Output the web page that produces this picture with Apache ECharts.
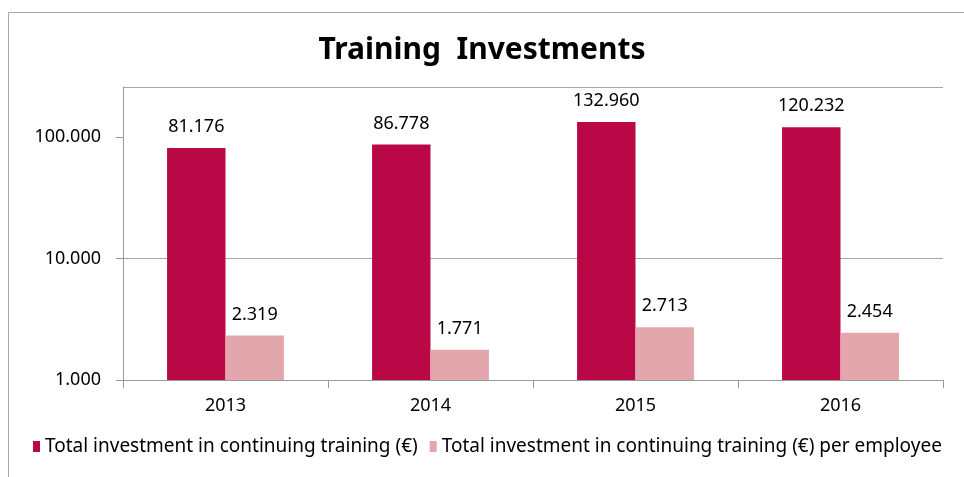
<!DOCTYPE html>
<html>
<head>
<meta charset="utf-8">
<title>Training Investments</title>
<script src="https://cdn.jsdelivr.net/npm/echarts@6/dist/echarts.min.js"></script>
<style>
  html, body { margin: 0; padding: 0; background: #fff; }
  #main { width: 964px; height: 477px; }
</style>
</head>
<body>
<div id="main"></div>
<script>
// data
const years = ['2013', '2014', '2015', '2016'];
const totalInvestment = [81176, 86778, 132960, 120232];
const perEmployee = [2319, 1771, 2713, 2454];
const seriesNames = [
  'Total investment in continuing training (€)',
  'Total investment in continuing training (€) per employee'
];

const FONT = '"Noto Sans", "Open Sans", sans-serif';

// 100000 -> "100.000"
const fmt = v => String(Math.round(v)).replace(/\B(?=(\d{3})+(?!\d))/g, '.');

const chart = echarts.init(document.getElementById('main'), null, { renderer: 'canvas' });

chart.setOption({
  animation: false,
  backgroundColor: '#fff',
  textStyle: { fontFamily: FONT },
  title: {
    text: 'Training  Investments',
    left: 'center',
    top: 30,
    textStyle: { fontFamily: FONT, fontSize: 30, fontWeight: 'bold', color: '#000' }
  },
  graphic: [{
    type: 'rect',
    left: 6,
    top: 10,
    shape: { width: 1100, height: 600 },
    style: { fill: 'none', stroke: '#a6a6a6', lineWidth: 1 },
    silent: true
  }],
  legend: {
    left: 28,
    top: 432,
    width: 3000,
    itemWidth: 7,
    itemHeight: 11,
    itemGap: 12,
    icon: 'rect',
    textStyle: { fontFamily: FONT, fontSize: 19, color: '#000' },
    data: seriesNames
  },
  grid: { left: 123, right: 21, top: 87, bottom: 97, containLabel: false },
  xAxis: {
    type: 'category',
    data: years,
    axisLine: { lineStyle: { color: '#999' } },
    axisTick: { show: true, length: 8, alignWithLabel: false, lineStyle: { color: '#999' } },
    axisLabel: { fontFamily: FONT, fontSize: 18, color: '#000', margin: 17 }
  },
  yAxis: {
    type: 'log',
    logBase: 10,
    min: 1000,
    max: 258000,
    axisLine: { show: true, lineStyle: { color: '#999' } },
    axisTick: { show: true, length: 7, lineStyle: { color: '#999' } },
    axisLabel: {
      fontFamily: FONT, fontSize: 18, color: '#000', margin: 22,
      showMaxLabel: false,
      formatter: v => fmt(v)
    },
    splitLine: {
      show: true,
      lineStyle: { color: ['#a6a6a6', '#a6a6a6', '#a6a6a6', 'rgba(0,0,0,0)'], width: 1 }
    }
  },
  series: [
    {
      name: seriesNames[0],
      type: 'bar',
      data: totalInvestment,
      barGap: '0%',
      barCategoryGap: '43%',
      itemStyle: { color: '#b90845' },
      label: {
        show: true, position: 'top', distance: 12,
        fontFamily: FONT, fontSize: 18, color: '#000',
        formatter: p => fmt(p.value)
      }
    },
    {
      name: seriesNames[1],
      type: 'bar',
      data: perEmployee,
      itemStyle: { color: '#e3a6ac' },
      label: {
        show: true, position: 'top', distance: 12,
        fontFamily: FONT, fontSize: 18, color: '#000',
        formatter: p => fmt(p.value)
      }
    }
  ]
});
</script>
</body>
</html>
